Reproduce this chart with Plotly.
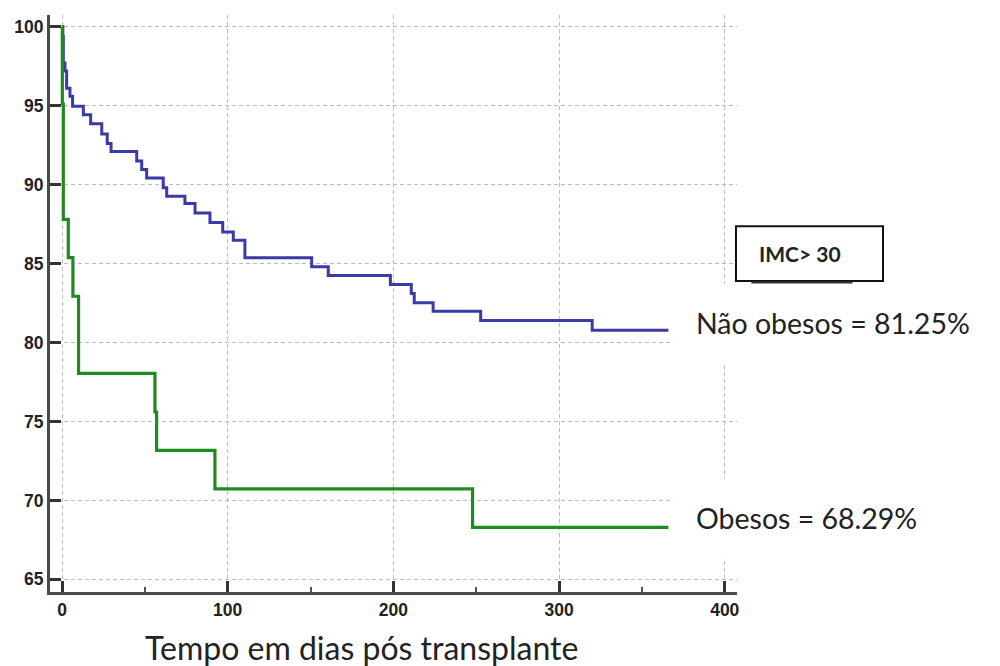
import plotly.graph_objects as go

# Kaplan-Meier style survival curves (days post-transplant vs % survival)
nao_obesos_days = [0, 0.5, 0.8, 1.8, 2.8, 4.8, 6.4, 12.9, 17.3, 24, 27.3, 29.6, 45.1, 48.1,
                   51.1, 61.1, 63.2, 74.2, 80.3, 89.3, 97, 103.4, 110.4, 150.7, 160.7, 198.2,
                   210.8, 212.6, 224, 252.7, 320, 366]
nao_obesos_surv = [100, 99.4, 97.7, 97.2, 96.1, 95.6, 94.96, 94.43, 93.86, 93.2, 92.6, 92.1,
                   91.5, 90.95, 90.42, 89.8, 89.26, 88.8, 88.2, 87.6, 87.0, 86.47, 85.36, 84.8,
                   84.24, 83.67, 83.1, 82.51, 81.98, 81.39, 80.78, 80.78]

obesos_days = [0, 0.2, 0.8, 3.8, 6.6, 10.0, 56.1, 57.1, 92.3, 247.8, 366]
obesos_surv = [100, 95.12, 87.8, 85.37, 82.93, 78.05, 75.6, 73.17, 70.73, 68.29, 68.29]

label_nao = "Não obesos = 81.25%"
label_obe = "Obesos = 68.29%"
box_label = "IMC> 30"
x_title = "Tempo em dias pós transplante"
y_ticks = [65, 70, 75, 80, 85, 90, 95, 100]
x_ticks = [0, 100, 200, 300, 400]

fig = go.Figure()
fig.add_trace(go.Scatter(x=nao_obesos_days, y=nao_obesos_surv, mode="lines",
                         line=dict(shape="hv", color="#3b3ba6", width=3),
                         name="Não obesos", showlegend=False))
fig.add_trace(go.Scatter(x=obesos_days, y=obesos_surv, mode="lines",
                         line=dict(shape="hv", color="#1f8a1f", width=3.2),
                         name="Obesos", showlegend=False))

tickfont = dict(family="Liberation Sans", size=17.5, color="#222", weight="bold")
axis_common = dict(showline=True, linecolor="#4a4a4a", linewidth=3, mirror=False,
                   ticks="inside", tickcolor="#333", tickwidth=2.5, ticklen=11,
                   showgrid=True, gridcolor="#bdbdbd", griddash="4px,3px", gridwidth=1,
                   zeroline=False, tickfont=tickfont)

fig.update_xaxes(range=[-7.24, 407.4], tickvals=x_ticks, **axis_common,
                 minor=dict(ticks="inside", ticklen=5, tickwidth=1.5, tickcolor="#555",
                            dtick=50, tick0=0, showgrid=False))
fig.update_yaxes(range=[64.2, 100.74], tickvals=y_ticks, **axis_common)

txtfont = dict(family="Lato", size=28.5, color="#222")
fig.add_annotation(x=368.7, y=81.22, xref="x", yref="y", text=label_nao, showarrow=False,
                   xanchor="left", yanchor="middle", font=txtfont, bgcolor="white",
                   borderpad=22)
fig.add_annotation(x=368.7, y=68.87, xref="x", yref="y", text=label_obe, showarrow=False,
                   xanchor="left", yanchor="middle", font=txtfont, bgcolor="white",
                   borderpad=22)

fig.add_annotation(x=0.4527, y=-0.097, xref="paper", yref="paper", text=x_title,
                   showarrow=False, xanchor="center", yanchor="middle",
                   font=dict(family="Lato", size=32, color="#222"))

# IMC box
fig.add_shape(type="rect", xref="paper", yref="paper", x0=0.9985, x1=1.2125,
              y0=0.539, y1=0.634, line=dict(color="#111", width=2), fillcolor="white",
              layer="above")
fig.add_shape(type="line", xref="paper", yref="paper", x0=1.021, x1=1.168,
              y0=0.5355, y1=0.5355, line=dict(color="#333", width=3), layer="above")
fig.add_annotation(x=1.0917, y=0.5875, xref="paper", yref="paper", text=box_label,
                   showarrow=False, xanchor="center", yanchor="middle",
                   font=dict(family="Lato", size=21, color="#222", weight="bold"))

# page body adds an 8px offset, so the figure is 8px smaller on each side
fig.update_layout(width=992, height=658, margin=dict(l=42, r=263, t=7, b=74),
                  paper_bgcolor="white", plot_bgcolor="white", showlegend=False)

fig.write_html("out.html")
